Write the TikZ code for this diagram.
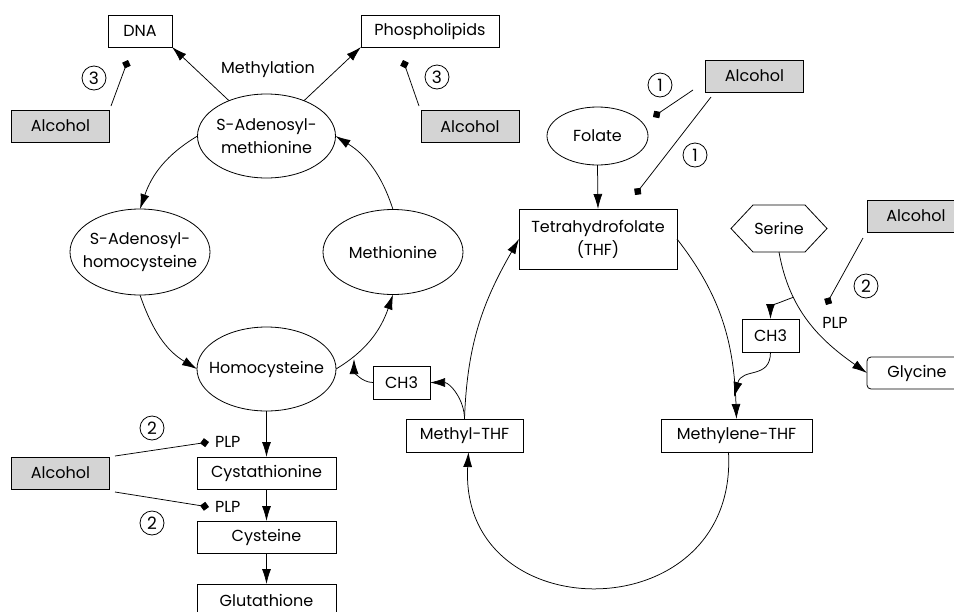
\documentclass[tikz,border=0pt]{standalone}
\usepackage{fontspec}
\setmainfont{Poppins}
\usetikzlibrary{arrows.meta,shapes.geometric,calc}
\definecolor{alcgray}{RGB}{212,212,212}
\begin{document}
\begin{tikzpicture}[x=1pt,y=-1pt,
  every node/.style={font=\fontsize{16}{23}\selectfont, outer sep=0pt, inner sep=0pt},
  box/.style={draw, line width=0.8pt, rectangle, minimum height=32, align=center},
  gbox/.style={box, fill=alcgray, minimum width=98},
  ell/.style={draw, line width=0.8pt, ellipse, align=center, inner sep=-30pt},
  num/.style={draw, line width=0.8pt, circle, minimum size=24, font=\fontsize{17}{17}\selectfont},
  arr/.style={line width=0.75pt, -{Latex[length=15pt,width=9pt]}},
  inh/.style={line width=0.75pt, -{Diamond[length=9pt,width=9pt]}},
  con/.style={line width=0.75pt}]
\useasboundingbox (0,0) rectangle (954,611);
% nodes
\node[box, minimum width=64] (dna) at (140,31) {DNA};
\node[box, minimum width=138] (phos) at (430,31) {Phospholipids};
\node[gbox] (alcA) at (60.5,126) {Alcohol};
\node[gbox] (alcB) at (470,126.5) {Alcohol};
\node[gbox] (alcC) at (754.5,76) {Alcohol};
\node[gbox] (alcD) at (916,216) {Alcohol};
\node[gbox] (alcE) at (60.5,473) {Alcohol};
\node (meth) at (268,69) {Methylation};
\node[ell, minimum width=138, minimum height=84] (sam) at (266.5,136) {S-Adenosyl-\\methionine};
\node[ell, minimum width=140, minimum height=86] (sah) at (140,252) {S-Adenosyl-\\homocysteine};
\node[ell, minimum width=140, minimum height=85] (met) at (393,252) {Methionine};
\node[ell, minimum width=139, minimum height=84] (hcy) at (266.5,369) {Homocysteine};
\node[box, minimum width=57, minimum height=33] (ch3a) at (401.5,382.5) {CH3};
\node[box, minimum width=117, minimum height=33] (mthf) at (464.5,435.5) {Methyl-THF};
\node[box, minimum width=151, minimum height=33] (mlthf) at (736.5,435.5) {Methylene-THF};
\node[box, minimum width=158, minimum height=60] (thf) at (598,239) {Tetrahydrofolate\\(THF)};
\node[ell, minimum width=101, minimum height=58] (fol) at (597.5,136) {Folate};
\node[minimum width=96, minimum height=47] (ser) at (779,228.5) {Serine};
\draw[con, line width=0.8pt] (ser.west) -- ($(ser.north west)+(22,0)$) -- ($(ser.north east)+(-22,0)$) -- (ser.east) -- ($(ser.south east)+(-22,0)$) -- ($(ser.south west)+(22,0)$) -- cycle;
\node[box, minimum width=57, minimum height=33] (ch3b) at (770.5,335.5) {CH3};
\node[box, rounded corners=4pt, minimum width=100, minimum height=32] (gly) at (917,373) {Glycine};
\node[box, minimum width=139] (cyst) at (266.5,473) {Cystathionine};
\node[box, minimum width=139] (cys) at (266.5,537) {Cysteine};
\node[box, minimum width=139] (glut) at (266.5,600) {Glutathione};
% circled numbers
\node[num] (n3a) at (94,78) {3};
\node[num] (n3b) at (437,77) {3};
\node[num] (n1a) at (660,85) {1};
\node[num] (n1b) at (695,155) {1};
\node[num] (n2a) at (866,286) {2};
\node[num] (n2b) at (152,428) {2};
\node[num] (n2c) at (152,523) {2};
% PLP labels
\node[anchor=west] (plp1) at (215,442) {PLP};
\node[anchor=west] (plp2) at (215,507) {PLP};
\node (plp3) at (835,323) {PLP};
% inhibitor coordinates
\coordinate (iA1) at (111,106); \coordinate (iA2) at (128,60);
\coordinate (iB1) at (419,106); \coordinate (iB2) at (403,60);
\coordinate (iC1) at (693,90);  \coordinate (iC2) at (653,117);
\coordinate (iD1) at (711,97);  \coordinate (iD2) at (635,195);
\coordinate (iE1) at (863,238); \coordinate (iE2) at (826,305);
\coordinate (iF1) at (115,456); \coordinate (iF2) at (209,442);
\coordinate (iG1) at (115,492); \coordinate (iG2) at (209,507);
\draw[inh] (iA1) -- (iA2);
\draw[inh] (iB1) -- (iB2);
\draw[inh] (iC1) -- (iC2);
\draw[inh] (iD1) -- (iD2);
\draw[inh] (iE1) -- (iE2);
\draw[inh] (iF1) -- (iF2);
\draw[inh] (iG1) -- (iG2);
% methylation cycle
\draw[arr] (sam) -- (dna.south east);
\draw[arr] (sam) -- (phos.south west);
\draw[arr] (sam.west) to[out=211,in=71] (sah.north);
\draw[arr] (sah.south) to[out=289,in=149] (hcy.west);
\draw[arr] (hcy.east) to[out=31,in=251] (met.south);
\draw[arr] (met.north) to[out=108,in=328] (sam.east);
\coordinate (c1) at (354,359);
\draw[arr] (ch3a.west) to[out=180,in=-90] (c1);
\draw[arr] (mthf.north) to[out=90,in=0] (ch3a.east);
% folate cycle
\draw[arr] (fol.south) -- (thf.north);
\draw[arr] (mthf.north) to[out=88,in=240] (thf.west);
\draw[arr] (thf.east) to[out=-52,in=92] (mlthf.north);
\draw[arr] ($(mlthf.south)+(-8,0)$) .. controls +(10,180) and +(-10,180) .. ($(mthf.south)+(4,0)$);
% serine
\draw[arr] (ser.south) to[out=-80,in=145] coordinate[pos=0.3] (br) (gly.west);
\draw[arr] (br) to[out=200,in=90] (ch3b.north);
\coordinate (c2) at (734,397);
\draw[arr] (ch3b.south) .. controls +(0,28) and +(8,-30) .. (c2);
% transsulfuration
\draw[arr] (hcy.south) -- (cyst.north);
\draw[arr] (cyst.south) -- (cys.north);
\draw[arr] (cys.south) -- (glut.north);
\end{tikzpicture}
\end{document}
